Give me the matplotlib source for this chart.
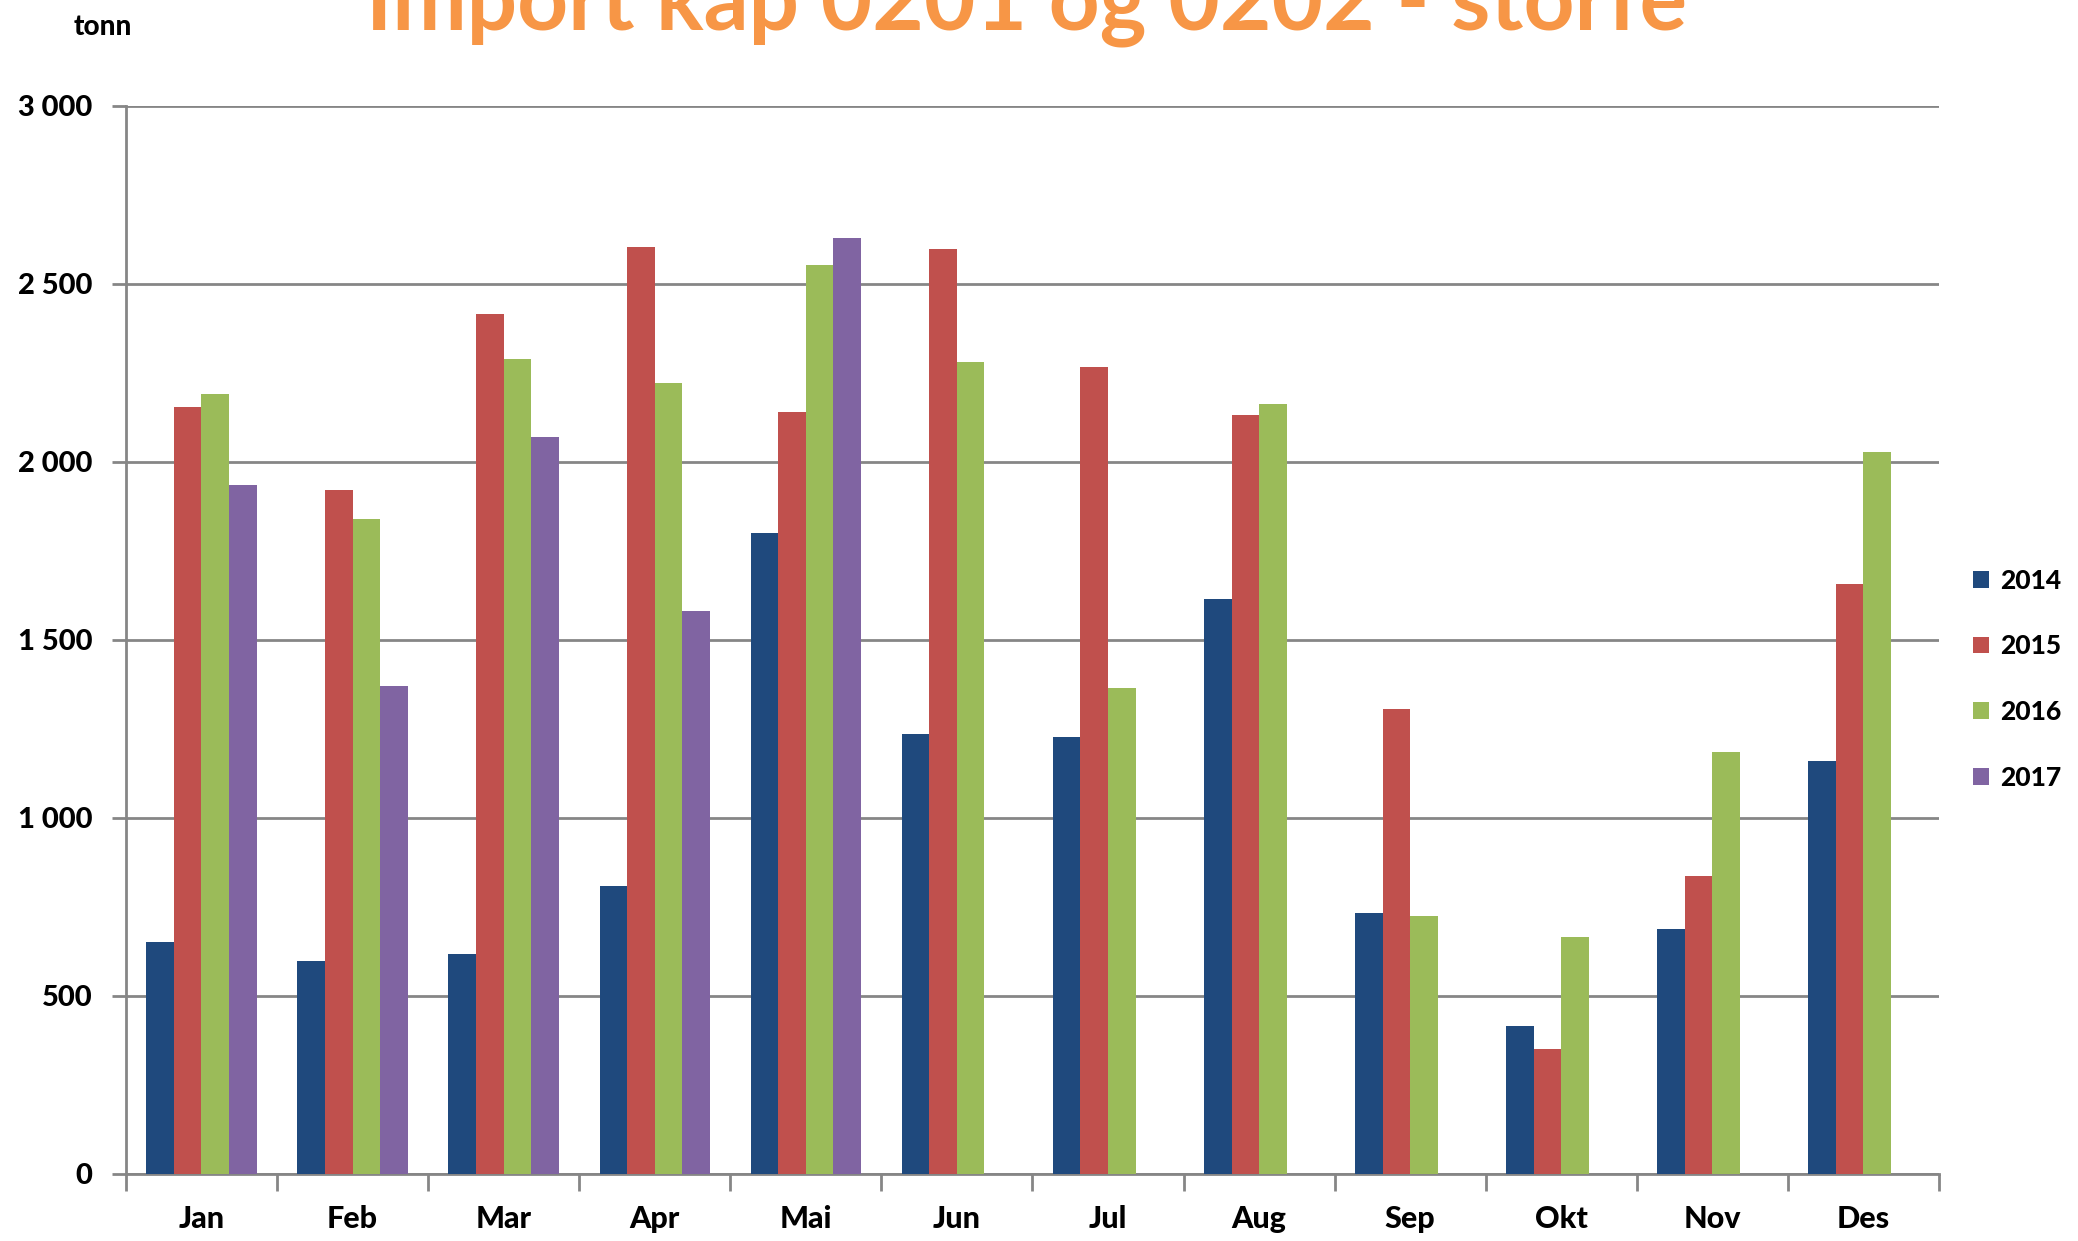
import numpy as np
import matplotlib.pyplot as plt

months = ['Jan', 'Feb', 'Mar', 'Apr', 'Mai', 'Jun', 'Jul', 'Aug', 'Sep', 'Okt', 'Nov', 'Des']
years = ['2014', '2015', '2016', '2017']
nan = np.nan

v2014 = [651, 599, 618, 808, 1801, 1236, 1228, 1615, 733, 417, 689, 1161]
v2015 = [2155, 1921, 2416, 2605, 2140, 2598, 2267, 2133, 1306, 350, 837, 1656]
v2016 = [2192, 1839, 2289, 2222, 2553, 2282, 1366, 2163, 726, 666, 1184, 2029]
v2017 = [1935, 1370, 2069, 1582, 2628, nan, nan, nan, nan, nan, nan, nan]

colors = ['#1F497D', '#C0504D', '#9BBB59', '#8064A2']

plt.rcParams['font.family'] = ['Lato', 'DejaVu Sans']
plt.rcParams['font.weight'] = 'bold'

fig = plt.figure(figsize=(20.78, 12.41), dpi=100)
ax = fig.add_axes([0.0606, 0.054, 0.8725, 0.8606])

x = np.arange(len(months))
bw = 0.1825
series = [v2014, v2015, v2016, v2017]
for i, (vals, col, yr) in enumerate(zip(series, colors, years)):
    ax.bar(x + (i - 1.5) * bw, vals, width=bw, color=col, label=yr, zorder=3)

ax.set_xlim(-0.5, 11.5)
ax.set_ylim(0, 3000)
ax.set_yticks(range(0, 3001, 500))
ax.set_yticklabels(['0', '500', '1 000', '1 500', '2 000', '2 500', '3 000'])
ax.yaxis.grid(True, color='#868686', linewidth=2, zorder=0)

# ticks between months, labels at centres
ax.set_xticks(np.arange(-0.5, 12, 1))
ax.set_xticklabels([])
ax.set_xticks(x, minor=True)
ax.set_xticklabels(months, minor=True)
ax.tick_params(axis='x', which='major', length=12, width=2, color='#868686', direction='out')
ax.tick_params(axis='x', which='minor', length=0, pad=22, labelsize=22)
ax.tick_params(axis='y', length=10, width=2, color='#868686', direction='out', labelsize=21, pad=14)
for lab in ax.get_yticklabels() + ax.get_xticklabels(minor=True):
    lab.set_fontweight('black')

for s in ['top', 'right']:
    ax.spines[s].set_visible(False)
for s in ['left', 'bottom']:
    ax.spines[s].set_color('#868686')
    ax.spines[s].set_linewidth(2)

fig.text(0.0356, 0.978, 'tonn', fontsize=20, fontweight='black', va='center')
fig.text(0.494, 0.976, 'Import kap 0201 og 0202 - storfe', fontsize=64, fontweight='bold',
         color='#F79646', ha='center', va='baseline')

leg = fig.legend(loc='upper left', bbox_to_anchor=(0.938, 0.561), frameon=False, fontsize=19,
                 handlelength=0.6, handleheight=0.6, handletextpad=0.45, labelspacing=1.58)
for t in leg.get_texts():
    t.set_fontweight('black')

fig.savefig('out.png', dpi=100)
